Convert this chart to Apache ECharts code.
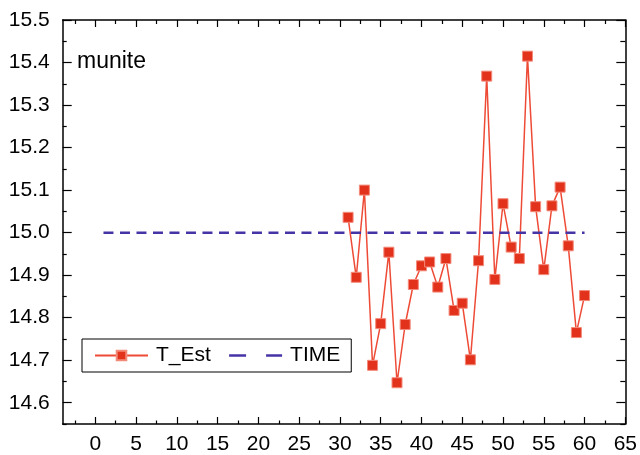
<!DOCTYPE html>
<html>
<head>
<meta charset="utf-8">
<script src="https://cdn.jsdelivr.net/npm/echarts@6/dist/echarts.min.js"></script>
<style>html,body{margin:0;padding:0;background:#fff;}#c{width:640px;height:455px;}</style>
</head>
<body>
<div id="c"></div>
<script>
const xValues = [31,32,33,34,35,36,37,38,39,40,41,42,43,44,45,46,47,48,49,50,51,52,53,54,55,56,57,58,59,60];
const tEst = [15.036,14.895,15.100,14.688,14.786,14.954,14.647,14.784,14.878,14.922,14.931,14.872,14.939,14.817,14.834,14.701,14.934,15.368,14.890,15.068,14.966,14.939,15.415,15.061,14.913,15.063,15.107,14.969,14.765,14.852];
const timeX = [1, 60];
const timeY = [15.0, 15.0];
const xMajorTicks = [0,5,10,15,20,25,30,35,40,45,50,55,60,65];
const xMinorTicks = [-2.5,2.5,7.5,12.5,17.5,22.5,27.5,32.5,37.5,42.5,47.5,52.5,57.5,62.5];
const yMajorTicks = [14.6,14.7,14.8,14.9,15.0,15.1,15.2,15.3,15.4,15.5];
const yMinorTicks = [14.55,14.65,14.75,14.85,14.95,15.05,15.15,15.25,15.35,15.45];

const FONT = "'Liberation Sans', Arial, sans-serif";
const chart = echarts.init(document.getElementById('c'), null, {renderer: 'canvas'});

function xAx(pos, ticks, len, labels, line) {
  return {
    type: 'value', min: -4, max: 65, position: pos,
    axisLine: {show: line, onZero: false, lineStyle: {color: '#000', width: 1.5}},
    axisTick: {show: true, inside: true, length: len, customValues: ticks, lineStyle: {color: '#000', width: 1.2}},
    axisLabel: labels ? {show: true, customValues: ticks, fontSize: 21, color: '#000', fontFamily: FONT, margin: 10} : {show: false},
    splitLine: {show: false}
  };
}
function yAx(pos, ticks, len, labels, line) {
  return {
    type: 'value', min: 14.55, max: 15.5, position: pos,
    axisLine: {show: line, onZero: false, lineStyle: {color: '#000', width: 1.5}},
    axisTick: {show: true, inside: true, length: len, customValues: ticks, lineStyle: {color: '#000', width: 1.2}},
    axisLabel: labels ? {show: true, customValues: ticks, fontSize: 21, color: '#000', fontFamily: FONT, margin: 13,
      formatter: v => Number(v).toFixed(1)} : {show: false},
    splitLine: {show: false}
  };
}

chart.setOption({
  animation: false,
  backgroundColor: '#fff',
  textStyle: {fontFamily: FONT},
  title: {text: 'munite', left: 77, top: 50, padding: 0,
    textStyle: {fontSize: 23, fontWeight: 'normal', color: '#000', fontFamily: FONT}},
  grid: {left: 62.7, right: 9, top: 20, bottom: 31, containLabel: false},
  xAxis: [
    xAx('bottom', xMajorTicks, 7, true, true),
    xAx('bottom', xMinorTicks, 3.5, false, false),
    xAx('top', xMajorTicks, 7, false, true),
    xAx('top', xMinorTicks, 4, false, false)
  ],
  yAxis: [
    yAx('left', yMajorTicks, 9, true, true),
    yAx('left', yMinorTicks, 4, false, false),
    yAx('right', yMajorTicks, 9, false, true),
    yAx('right', yMinorTicks, 5, false, false)
  ],
  legend: {
    left: 82, top: 339, orient: 'horizontal',
    padding: [6, 11, 6, 12], itemGap: 17, itemWidth: 53, itemHeight: 12,
    borderColor: '#000', borderWidth: 1, backgroundColor: '#fff',
    textStyle: {fontSize: 21, color: '#000', fontFamily: FONT, padding: [0, 0, 0, 3]},
    data: [
      {name: 'T_Est'},
      {name: 'TIME', itemStyle: {color: 'rgba(0,0,0,0)', borderWidth: 0, opacity: 0},
        lineStyle: {type: [17, 20], width: 2.5, color: '#4534a6'}}
    ]
  },
  series: [
    {
      name: 'T_Est', type: 'line', xAxisIndex: 0, yAxisIndex: 0,
      data: xValues.map((x, i) => [x, tEst[i]]),
      symbol: 'rect', symbolSize: 10,
      itemStyle: {color: '#e2321c', borderColor: '#f38a7a', borderWidth: 1},
      lineStyle: {color: '#ee4b37', width: 1.5},
      z: 2
    },
    {
      name: 'TIME', type: 'line', xAxisIndex: 0, yAxisIndex: 0,
      data: timeX.map((x, i) => [x, timeY[i]]),
      symbol: 'rect', symbolSize: 0, showSymbol: false,
      itemStyle: {color: 'rgba(0,0,0,0)', borderWidth: 0},
      lineStyle: {color: '#4534a6', width: 2.5, type: [10, 6.5]},
      z: 3
    }
  ]
});
</script>
</body>
</html>
